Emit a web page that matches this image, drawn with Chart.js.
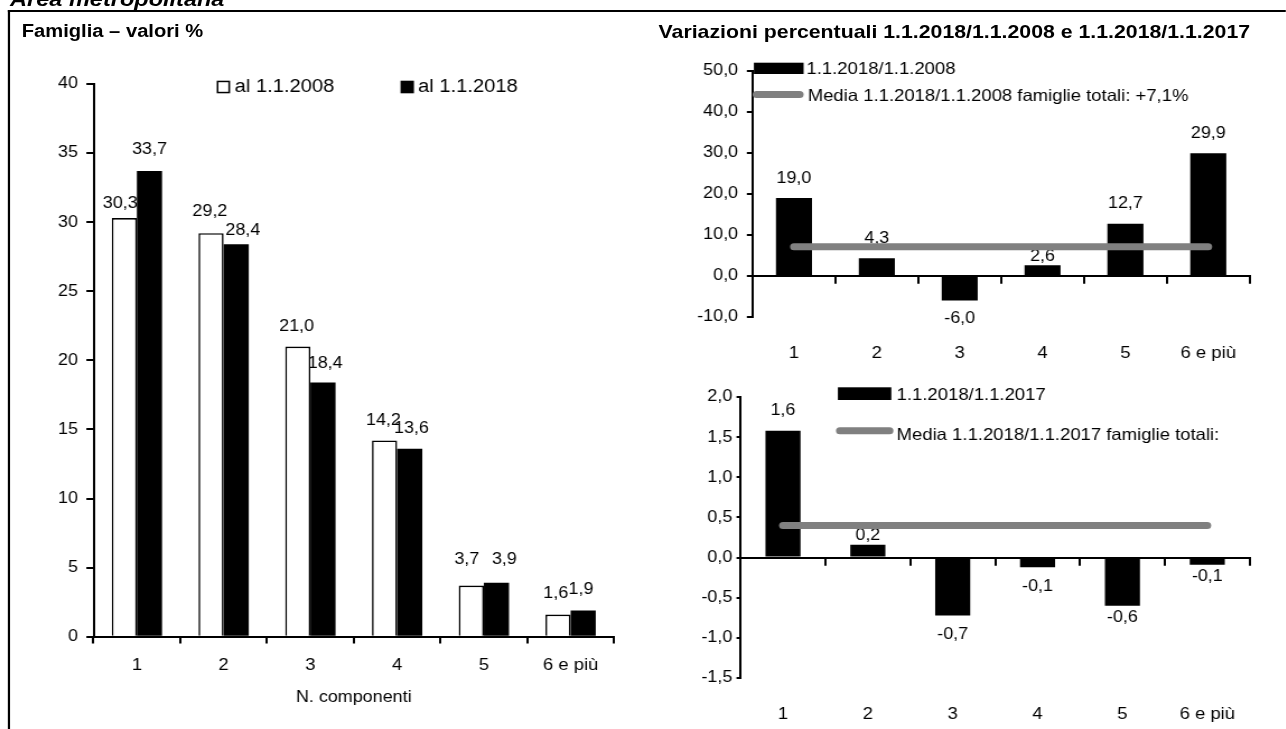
<!DOCTYPE html>
<html lang="it">
<head>
<meta charset="utf-8">
<title>Famiglie per numero di componenti - Area metropolitana</title>
<script src="https://cdn.jsdelivr.net/npm/chart.js@4.4.1/dist/chart.umd.min.js"></script>
<style>
    html, body { margin: 0; padding: 0; background: #fff; overflow: hidden; }
    body { width: 1286px; height: 729px; position: relative; }
    /* the reference is a little wider than tall, so the whole sheet is stretched */
    #page {
        position: absolute; left: 0; top: 0; width: 1148.2px; height: 729px;
        transform: scaleX(1.12); transform-origin: 0 0;
        font-family: 'Liberation Sans', Arial, Helvetica, sans-serif; color: #000;
    }
    .cornice { position: absolute; left: 6.5px; top: 10px; right: 0; bottom: 0;
        border-top: 2.5px solid #000; border-left: 2.4px solid #000; }
    .area { position: absolute; left: 9px; top: -12.5px; font-size: 21px; font-weight: bold;
        font-style: italic; line-height: 1; white-space: nowrap; }
    .titolo { position: absolute; font-weight: bold; line-height: 1; white-space: nowrap; }
    canvas { position: absolute; }
</style>
</head>
<body>
<div id="page">
    <div class="area">Area metropolitana</div>
    <div class="cornice"></div>
    <div class="titolo" style="left:19.4px; top:22.1px; font-size:18px;">Famiglia – valori %</div>
    <div class="titolo" style="left:588px; top:21.7px; font-size:19px;">Variazioni percentuali 1.1.2018/1.1.2008 e 1.1.2018/1.1.2017</div>
    <canvas id="famiglie" width="600" height="689" style="left:0; top:40px; width:600px; height:689px;"></canvas>
    <canvas id="var2008" width="588" height="330" style="left:560px; top:40px; width:588px; height:330px;"></canvas>
    <canvas id="var2017" width="588" height="369" style="left:560px; top:360px; width:588px; height:369px;"></canvas>
</div>
<script>
// Dati
const categorie = ['1', '2', '3', '4', '5', '6 e più'];
const famiglie2008 = [30.3, 29.2, 21.0, 14.2, 3.7, 1.6];
const famiglie2018 = [33.7, 28.4, 18.4, 13.6, 3.9, 1.9];
const variazione2008 = [19.0, 4.3, -6.0, 2.6, 12.7, 29.9];
const media2008 = [7.1, 7.1, 7.1, 7.1, 7.1, 7.1];
const variazione2017 = [1.58, 0.16, -0.72, -0.12, -0.6, -0.09];
const media2017 = [0.4, 0.4, 0.4, 0.4, 0.4, 0.4];
const tickValori = [0, 5, 10, 15, 20, 25, 30, 35, 40];
const tickVar2008 = [-10, 0, 10, 20, 30, 40, 50];
const tickVar2017 = [-1.5, -1, -0.5, 0, 0.5, 1, 1.5, 2];

const FONT = "'Liberation Sans', Arial, Helvetica, sans-serif";
Chart.defaults.font.family = FONT;
Chart.defaults.color = '#000';

const virgola = (v, d) => v.toFixed(d).replace('.', ',');

// Vertical axis with fixed ticks and a fixed width
function asseVerticale(ticks, tickLength, padding, decimali) {
    return {
        position: 'left',
        min: ticks[0],
        max: ticks[ticks.length - 1],
        afterBuildTicks: s => { s.ticks = ticks.map(value => ({ value })); },
        afterFit: s => { s.width = 60; },
        grid: { drawOnChartArea: false, drawTicks: true, tickLength, color: '#000', lineWidth: 2 },
        border: { display: true, color: '#000', width: 2 },
        ticks: { padding, font: { size: 16 }, color: '#000', callback: v => virgola(v, decimali) }
    };
}

// Horizontal axis line drawn at zero, tick marks only
function asseZero() {
    return {
        axis: 'x', type: 'category', position: { y: 0 }, offset: true,
        grid: { display: true, offset: true, drawOnChartArea: false, drawTicks: true,
                tickLength: 6.7, color: '#000', lineWidth: 2 },
        border: { display: true, color: '#000', width: 2 },
        ticks: { display: false }
    };
}

// Category labels under the plot
function asseEtichette(yMin, padding) {
    return {
        axis: 'x', type: 'category', position: { y: yMin }, offset: true,
        grid: { display: false },
        border: { display: false },
        ticks: { padding, font: { size: 16.5 }, color: '#000', autoSkip: false, maxRotation: 0 }
    };
}

// Value labels next to the end of each bar (scarti = gap from bar end, spost = sideways nudge)
function etichette(scarti, spost, size) {
    return {
        id: 'etichette',
        afterDatasetDraw(chart, args) {
            if (args.meta.type !== 'bar') return;
            const ds = chart.data.datasets[args.index];
            const offs = scarti[args.index];
            const dx = spost ? spost[args.index] : null;
            const ctx = chart.ctx;
            ctx.save();
            ctx.font = size + 'px ' + FONT;
            ctx.fillStyle = '#000';
            ctx.textAlign = 'center';
            ctx.textBaseline = 'middle';
            args.meta.data.forEach((bar, i) => {
                const v = ds.data[i];
                const y = v >= 0 ? bar.y - offs[i] : bar.y + offs[i];
                ctx.fillText(virgola(v, 1), bar.x + (dx ? dx[i] : 0), y);
            });
            ctx.restore();
        }
    };
}

// Legend drawn over the plot, one entry per dataset
function legenda(voci, size) {
    return {
        id: 'legenda',
        afterDraw(chart) {
            const ctx = chart.ctx;
            ctx.save();
            chart.data.datasets.forEach((ds, i) => {
                const p = voci[i];
                if (ds.type === 'line') {
                    const r = ds.borderWidth / 2;
                    const cy = p.y + p.h / 2;
                    ctx.strokeStyle = ds.borderColor;
                    ctx.lineWidth = ds.borderWidth;
                    ctx.lineCap = 'round';
                    ctx.beginPath();
                    ctx.moveTo(p.x + r, cy);
                    ctx.lineTo(p.x + p.w - r, cy);
                    ctx.stroke();
                } else {
                    ctx.fillStyle = ds.backgroundColor;
                    ctx.fillRect(p.x, p.y, p.w, p.h);
                    if (ds.borderWidth) {
                        ctx.strokeStyle = ds.borderColor;
                        ctx.lineWidth = 1.5;
                        ctx.strokeRect(p.x + 0.75, p.y + 0.75, p.w - 1.5, p.h - 1.5);
                    }
                }
                ctx.fillStyle = '#000';
                ctx.font = size + 'px ' + FONT;
                ctx.textAlign = 'left';
                ctx.textBaseline = 'middle';
                ctx.fillText(ds.label, p.tx, p.ty);
            });
            ctx.restore();
        }
    };
}

const base = { responsive: false, animation: false, events: [] };

// Famiglia - valori %
new Chart(document.getElementById('famiglie'), {
    type: 'bar',
    data: {
        labels: categorie,
        datasets: [
            { label: 'al 1.1.2008', data: famiglie2008, backgroundColor: '#fff', borderColor: '#000',
              borderWidth: 1.6, categoryPercentage: 0.58, barPercentage: 1 },
            { label: 'al 1.1.2018', data: famiglie2018, backgroundColor: '#000', borderColor: '#000',
              borderWidth: 0, categoryPercentage: 0.58, barPercentage: 1 }
        ]
    },
    options: {
        ...base,
        layout: { padding: { left: 23.5, right: 51.8, top: 44, bottom: 22.3 } },
        plugins: { legend: { display: false }, tooltip: { enabled: false } },
        scales: {
            x: {
                position: 'bottom', offset: true,
                afterFit: s => { s.height = 70; },
                grid: { display: true, offset: true, drawOnChartArea: false, drawTicks: true,
                        tickLength: 6.7, color: '#000', lineWidth: 2 },
                border: { display: true, color: '#000', width: 2 },
                ticks: { padding: 11.7, font: { size: 16.5 }, color: '#000', maxRotation: 0 },
                title: { display: true, text: 'N. componenti', font: { size: 16 }, color: '#000',
                         padding: { top: 0, bottom: 0 } }
            },
            y: asseVerticale(tickValori, 6.4, 7.5, 0)
        }
    },
    plugins: [
        etichette([[14, 22, 20, 20, 26, 21], [21, 14, 19, 20, 23, 20.5]],
                  [[-3.6, -1, -1, -1, -4, -2], [0, 5.9, 2, 1.5, 7, -2]], 16),
        legenda([
            { x: 193.5, y: 40.7, w: 11.9, h: 12.6, tx: 209.5, ty: 47.5 },
            { x: 357.6, y: 40.7, w: 12, h: 12.6, tx: 373.2, ty: 47.5 }
        ], 18)
    ]
});

// Variazioni 1.1.2018/1.1.2008
new Chart(document.getElementById('var2008'), {
    type: 'bar',
    data: {
        labels: categorie,
        datasets: [
            { label: '1.1.2018/1.1.2008', data: variazione2008, backgroundColor: '#000', borderWidth: 0,
              categoryPercentage: 1, barPercentage: 0.435, order: 1, xAxisID: 'x', yAxisID: 'y' },
            { type: 'line', label: 'Media 1.1.2018/1.1.2008 famiglie totali: +7,1%', data: media2008,
              borderColor: '#808080', borderWidth: 7, borderCapStyle: 'round', pointRadius: 0,
              fill: false, order: 0, xAxisID: 'x', yAxisID: 'y' }
        ]
    },
    options: {
        ...base,
        layout: { padding: { left: 51.9, right: 32.2, top: 30.7, bottom: 53 } },
        plugins: { legend: { display: false }, tooltip: { enabled: false } },
        scales: {
            x: asseZero(),
            xl: asseEtichette(-10, 18.5),
            y: asseVerticale(tickVar2008, 5.1, 7.8, 1)
        }
    },
    plugins: [
        etichette([[19.5, 20, 18, 9, 20.5, 20]], null, 16),
        legenda([
            { x: 113.1, y: 22.7, w: 44.4, h: 11.3, tx: 160.1, ty: 29.5 },
            { x: 112, y: 51, w: 45.5, h: 7, tx: 161.2, ty: 56 }
        ], 16.5)
    ]
});

// Variazioni 1.1.2018/1.1.2017
new Chart(document.getElementById('var2017'), {
    type: 'bar',
    data: {
        labels: categorie,
        datasets: [
            { label: '1.1.2018/1.1.2017', data: variazione2017, backgroundColor: '#000', borderWidth: 0,
              categoryPercentage: 1, barPercentage: 0.413, order: 1, xAxisID: 'x', yAxisID: 'y' },
            { type: 'line', label: 'Media 1.1.2018/1.1.2017 famiglie totali:', data: media2017,
              borderColor: '#808080', borderWidth: 7, borderCapStyle: 'round', pointRadius: 0,
              fill: false, order: 0, xAxisID: 'x', yAxisID: 'y' }
        ]
    },
    options: {
        ...base,
        layout: { padding: { left: 41.2, right: 32.2, top: 37, bottom: 51 } },
        plugins: { legend: { display: false }, tooltip: { enabled: false } },
        scales: {
            x: asseZero(),
            xl: asseEtichette(-1.5, 18.5),
            y: asseVerticale(tickVar2017, 3.6, 3.8, 1)
        }
    },
    plugins: [
        etichette([[20, 9, 19, 19, 12, 12]], null, 16),
        legenda([
            { x: 188.1, y: 27.3, w: 47.7, h: 12.7, tx: 240.6, ty: 35 },
            { x: 186.4, y: 67.2, w: 51.3, h: 7, tx: 240.6, ty: 75.7 }
        ], 16.5)
    ]
});
</script>
</body>
</html>
